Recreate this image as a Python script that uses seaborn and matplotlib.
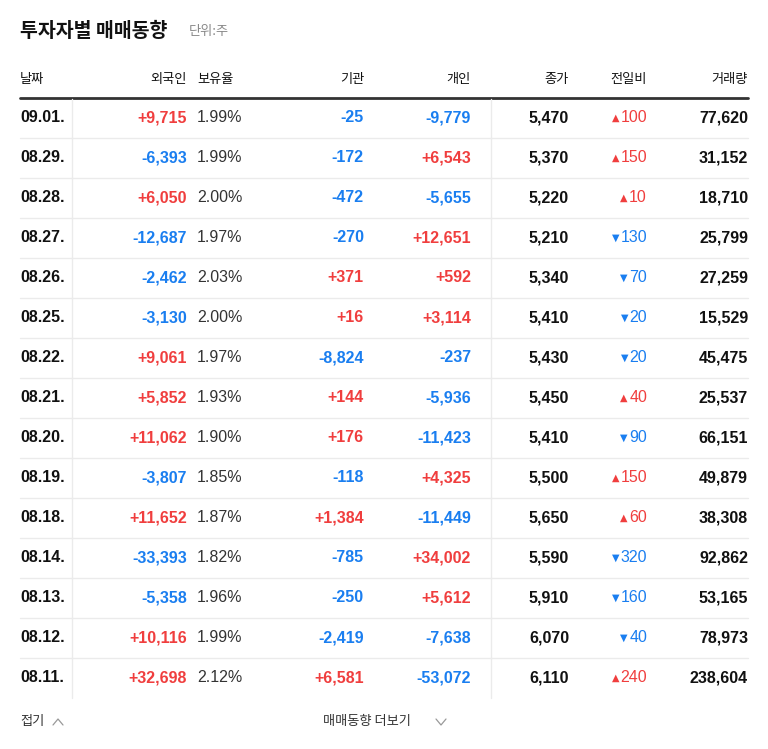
import matplotlib
matplotlib.use("Agg")
import matplotlib.pyplot as plt
import seaborn as sns

dates = ["09.01.","08.29.","08.28.","08.27.","08.26.","08.25.","08.22.","08.21.","08.20.","08.19.","08.18.","08.14.","08.13.","08.12.","08.11."]
foreign = [9715,-6393,6050,-12687,-2462,-3130,9061,5852,11062,-3807,11652,-33393,-5358,10116,32698]
holding = [1.99,1.99,2.00,1.97,2.03,2.00,1.97,1.93,1.90,1.85,1.87,1.82,1.96,1.99,2.12]
inst = [-25,-172,-472,-270,371,16,-8824,144,176,-118,1384,-785,-250,-2419,6581]
indiv = [-9779,6543,-5655,12651,592,3114,-237,-5936,-11423,4325,-11449,34002,5612,-7638,-53072]
close = [5470,5370,5220,5210,5340,5410,5430,5450,5410,5500,5650,5590,5910,6070,6110]
change = [100,150,10,-130,-70,-20,-20,40,-90,150,60,-320,-160,-40,240]
volume = [77620,31152,18710,25799,27259,15529,45475,25537,66151,49879,38308,92862,53165,78973,238604]
headers = ["날짜","외국인","보유율","기관","개인","종가","전일비","거래량"]

sns.set_theme(style="white")
KR = ["Noto Sans CJK KR", "Noto Sans CJK JP", "Noto Sans CJK SC", "DejaVu Sans"]
NUM = ["Liberation Sans Narrow", "Liberation Sans", "DejaVu Sans"]
RED, BLUE, DARK = "#f03e3e", "#1a7ef0", "#111111"

fig = plt.figure(figsize=(7.68, 7.49), dpi=100)
ax = fig.add_axes([0, 0, 1, 1])
ax.set_xlim(0, 768); ax.set_ylim(749, 0); ax.axis("off")

ax.text(20, 31, "투자자별 매매동향", fontfamily=KR, fontsize=14, fontweight="bold", color=DARK, va="center")
ax.text(189, 32, "단위:주", fontfamily=KR, fontsize=9.5, color="#888888", va="center")

hx = [(20,"left"),(187,"right"),(197,"left"),(364,"right"),(471,"right"),(569,"right"),(647,"right"),(748,"right")]
for (x, ha), h in zip(hx, headers):
    ax.text(x, 80, h, fontfamily=KR, fontsize=9.5, color=DARK, ha=ha, va="center")
ax.plot([20, 748], [98, 98], color="#333333", lw=2)

def sc(v):
    return RED if v > 0 else BLUE
def sg(v):
    return f"+{v:,}" if v > 0 else f"{v:,}"

n = len(dates)
for i in range(n):
    y = 118 + 40 * i
    kw = dict(fontfamily=NUM, fontsize=11.5, va="center")
    ax.text(20, y, dates[i], color=DARK, fontweight="bold", **kw)
    ax.text(187, y, sg(foreign[i]), color=sc(foreign[i]), ha="right", fontweight="bold", **kw)
    ax.text(197, y, f"{holding[i]:.2f}%", color="#333333", **kw)
    ax.text(364, y, sg(inst[i]), color=sc(inst[i]), ha="right", fontweight="bold", **kw)
    ax.text(471, y, sg(indiv[i]), color=sc(indiv[i]), ha="right", fontweight="bold", **kw)
    ax.text(569, y, f"{close[i]:,}", color=DARK, ha="right", fontweight="bold", **kw)
    c = RED if change[i] > 0 else BLUE
    t = ax.text(647, y, f"{abs(change[i]):,}", color=c, ha="right", **kw)
    ax.annotate("▲" if change[i] > 0 else "▼", xy=(0, 0.5), xycoords=t, xytext=(-1, 0),
                textcoords="offset points", ha="right", va="center", fontsize=7, color=c,
                fontfamily="DejaVu Sans")
    ax.text(748, y, f"{volume[i]:,}", color=DARK, ha="right", fontweight="bold", **kw)
    if i < n - 1:
        ax.plot([20, 748], [y + 20, y + 20], color="#ebebeb", lw=1)

for x in (72, 491):
    ax.plot([x, x], [99, 698], color="#ebebeb", lw=1)

ax.text(20, 721, "접기", fontfamily=KR, fontsize=9.5, color="#333333", va="center")
ax.plot([53, 58, 63], [725, 719, 725], color="#999999", lw=0.9)
ax.text(323, 721, "매매동향 더보기", fontfamily=KR, fontsize=9.5, color="#333333", va="center")
ax.plot([436, 441, 446], [719, 725, 719], color="#999999", lw=0.9)

fig.savefig("out.png", dpi=100)
